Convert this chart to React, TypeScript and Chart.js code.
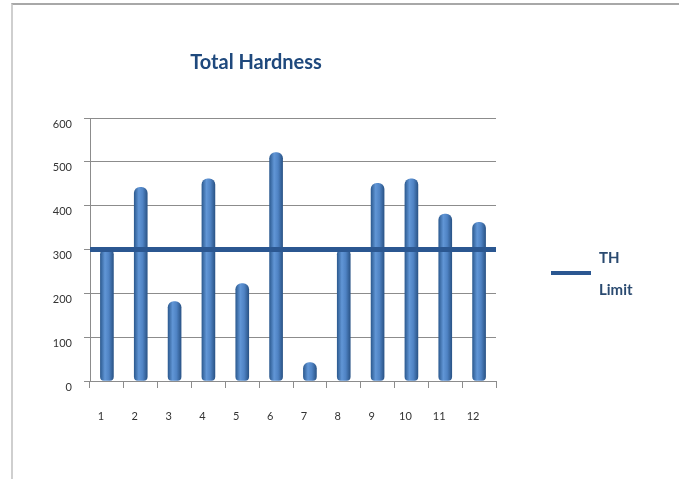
import React, { useEffect, useRef } from "react";
import { Chart, registerables } from "chart.js";

Chart.register(...registerables);

const categories = ["1", "2", "3", "4", "5", "6", "7", "8", "9", "10", "11", "12"];
const hardness = [302, 442, 181, 461, 222, 521, 42, 302, 451, 461, 381, 362];
const limitValue = 300;
const limitSpan = [0.5, 12.5];
const chartTitle = "Total Hardness";
const limitLabel = "TH Limit";
const yTicks = [0, 100, 200, 300, 400, 500, 600];

const FONT = "Lato, 'Open Sans', 'Liberation Sans', sans-serif";

const decorPlugin = {
  id: "decor",
  beforeDatasetDraw(chart: any, args: any) {
    if (args.index !== 0) return;
    const ctx = chart.ctx;
    args.meta.data.forEach((el: any) => {
      const half = el.width / 2;
      const g = ctx.createLinearGradient(el.x - half, 0, el.x + half, 0);
      g.addColorStop(0, "#2E5C92");
      g.addColorStop(0.35, "#6196D6");
      g.addColorStop(0.65, "#4F83C4");
      g.addColorStop(1, "#2B5588");
      if (el.options && !Object.isFrozen(el.options)) el.options.backgroundColor = g;
    });
  },
  afterDraw(chart: any) {
    const ctx = chart.ctx;
    ctx.save();
    ctx.font = `bold 20px ${FONT}`;
    ctx.fillStyle = "#1F497D";
    ctx.textAlign = "center";
    ctx.textBaseline = "middle";
    ctx.fillText(chartTitle, 256, 63);

    const ds = chart.data.datasets[1];
    ctx.strokeStyle = ds.borderColor;
    ctx.lineWidth = 4;
    ctx.beginPath();
    ctx.moveTo(551, 273);
    ctx.lineTo(591, 273);
    ctx.stroke();
    ctx.font = `bold 15px ${FONT}`;
    ctx.fillStyle = "#2A4A70";
    ctx.textAlign = "left";
    const words = String(ds.label).split(" ");
    words.forEach((w, i) => ctx.fillText(w, 599, 258 + i * 32));
    ctx.restore();
  },
};

export default function App() {
  const ref = useRef<HTMLCanvasElement | null>(null);

  useEffect(() => {
    if (!ref.current) return;
    const chart = new Chart(ref.current, {
      type: "bar",
      data: {
        labels: categories,
        datasets: [
          {
            type: "bar",
            label: "Total Hardness",
            data: hardness,
            backgroundColor: (c: any) => "#4F81BD",
            borderWidth: 0,
            borderRadius: { topLeft: 6, topRight: 6, bottomLeft: 4, bottomRight: 4 },
            borderSkipped: false,
            barThickness: 13,
            grouped: false,
            order: 1,
            xAxisID: "x",
          } as any,
          {
            type: "line",
            label: limitLabel,
            data: limitSpan.map((x) => ({ x, y: limitValue })),
            borderColor: "#2B5791",
            borderWidth: 5,
            pointRadius: 0,
            fill: false,
            order: 0,
            xAxisID: "x2",
          } as any,
        ],
      },
      options: {
        animation: false,
        responsive: false,
        maintainAspectRatio: false,
        layout: { padding: { top: 118, right: 183, bottom: 38, left: 0 } },
        plugins: {
          legend: { display: false },
          title: { display: false },
          tooltip: { enabled: false },
        },
        scales: {
          x: {
            type: "category",
            offset: true,
            afterFit: (s: any) => {
              s.height = 60;
            },
            grid: {
              offset: true,
              drawOnChartArea: false,
              drawTicks: true,
              tickLength: 7,
              color: "#8C8C8C",
            },
            border: { display: true, color: "#8C8C8C" },
            ticks: {
              labelOffset: -6,
              padding: 22,
              color: "#333333",
              font: { family: FONT, size: 11 },
            },
          },
          x2: {
            type: "linear",
            display: true,
            position: "bottom",
            offset: false,
            bounds: "data",
            min: limitSpan[0],
            max: limitSpan[1],
            grid: { display: false, drawTicks: false, offset: false },
            border: { display: false },
            ticks: { display: false },
            afterFit: (s: any) => {
              s.height = 0;
            },
          },
          y: {
            min: yTicks[0],
            max: yTicks[yTicks.length - 1],
            afterFit: (s: any) => {
              s.width = 90;
            },
            afterBuildTicks: (s: any) => {
              s.ticks = yTicks.map((v) => ({ value: v }));
            },
            grid: {
              color: "#8C8C8C",
              lineWidth: 1,
              drawTicks: true,
              tickLength: 6,
            },
            border: { display: true, color: "#8C8C8C" },
            ticks: {
              labelOffset: 6,
              padding: 12,
              color: "#333333",
              font: { family: FONT, size: 11 },
            },
          },
        },
      } as any,
      plugins: [decorPlugin],
    });
    return () => chart.destroy();
  }, []);

  return (
    <div
      style={{
        position: "absolute",
        left: 0,
        top: 0,
        width: 679,
        height: 479,
        background: "#ffffff",
        overflow: "hidden",
      }}
    >
      <div
        style={{
          position: "absolute",
          left: 11,
          top: 3,
          right: -2,
          bottom: -2,
          borderTop: "2px solid #A8A8A8",
          borderLeft: "2px solid #CFCFCF",
        }}
      />
      <canvas
        ref={ref}
        width={679}
        height={479}
        style={{ position: "absolute", left: 0, top: 0, width: 679, height: 479 }}
      />
    </div>
  );
}
